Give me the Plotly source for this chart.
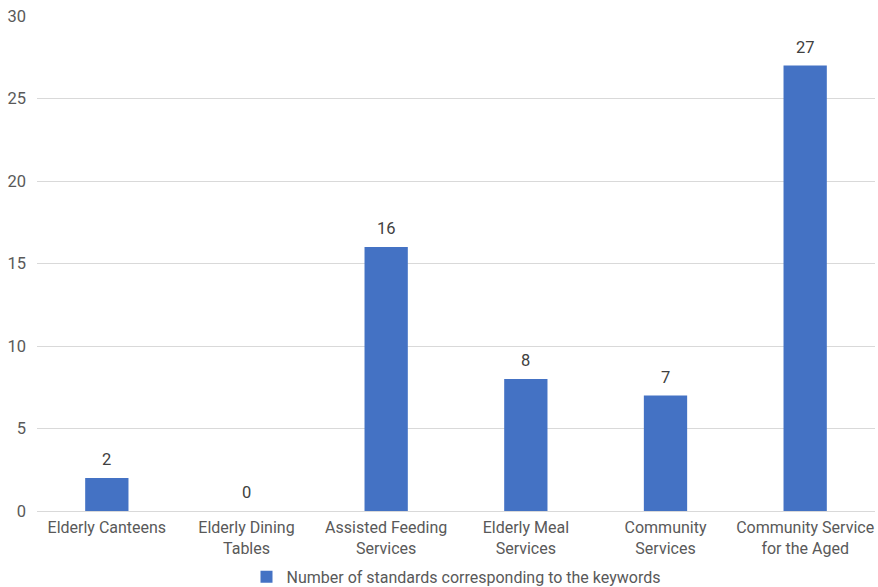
import plotly.graph_objects as go

categories = [
    "Elderly Canteens",
    "Elderly Dining<br>Tables",
    "Assisted Feeding<br>Services",
    "Elderly Meal<br>Services",
    "Community<br>Services",
    "Community Service<br>for the Aged",
]
counts = [2, 0, 16, 8, 7, 27]
series_name = "Number of standards corresponding to the keywords"
y_ticks = [0, 5, 10, 15, 20, 25, 30]

FONT = "Roboto, Noto Sans, sans-serif"
TEXT_GREY = "#595959"

fig = go.Figure(
    go.Bar(
        x=categories,
        y=counts,
        name=series_name,
        marker=dict(color="#4472C4", line=dict(width=0)),
        width=0.31,
        showlegend=True,
    )
)

# value labels above each bar
for cat, v in zip(categories, counts):
    fig.add_annotation(
        x=cat,
        y=v,
        text=str(v),
        showarrow=False,
        yanchor="bottom",
        yshift=7,
        font=dict(size=16.5, color="#404040", family=FONT),
    )

fig.update_layout(
    width=878,
    height=587,
    margin=dict(l=37, r=3, t=16, b=76, autoexpand=False),
    paper_bgcolor="white",
    plot_bgcolor="white",
    font=dict(family=FONT, color=TEXT_GREY),
    bargap=0.69,
    showlegend=True,
    legend=dict(
        orientation="h",
        x=0.5,
        xanchor="center",
        y=-0.133,
        yanchor="middle",
        font=dict(size=16, color=TEXT_GREY, family=FONT),
        itemwidth=30,
    ),
)

fig.update_xaxes(
    showgrid=False,
    showline=True,
    linecolor="#d9d9d9",
    linewidth=1,
    ticks="",
    ticklabelstandoff=2,
    tickfont=dict(size=16, color=TEXT_GREY, family=FONT),
)
fig.update_yaxes(
    range=[0, 30],
    tickvals=y_ticks,
    showgrid=True,
    gridcolor="#d9d9d9",
    gridwidth=1,
    zeroline=False,
    showline=False,
    ticks="",
    ticklabelstandoff=10,
    tickfont=dict(size=16.5, color=TEXT_GREY, family=FONT),
)

fig.write_html("out.html")
